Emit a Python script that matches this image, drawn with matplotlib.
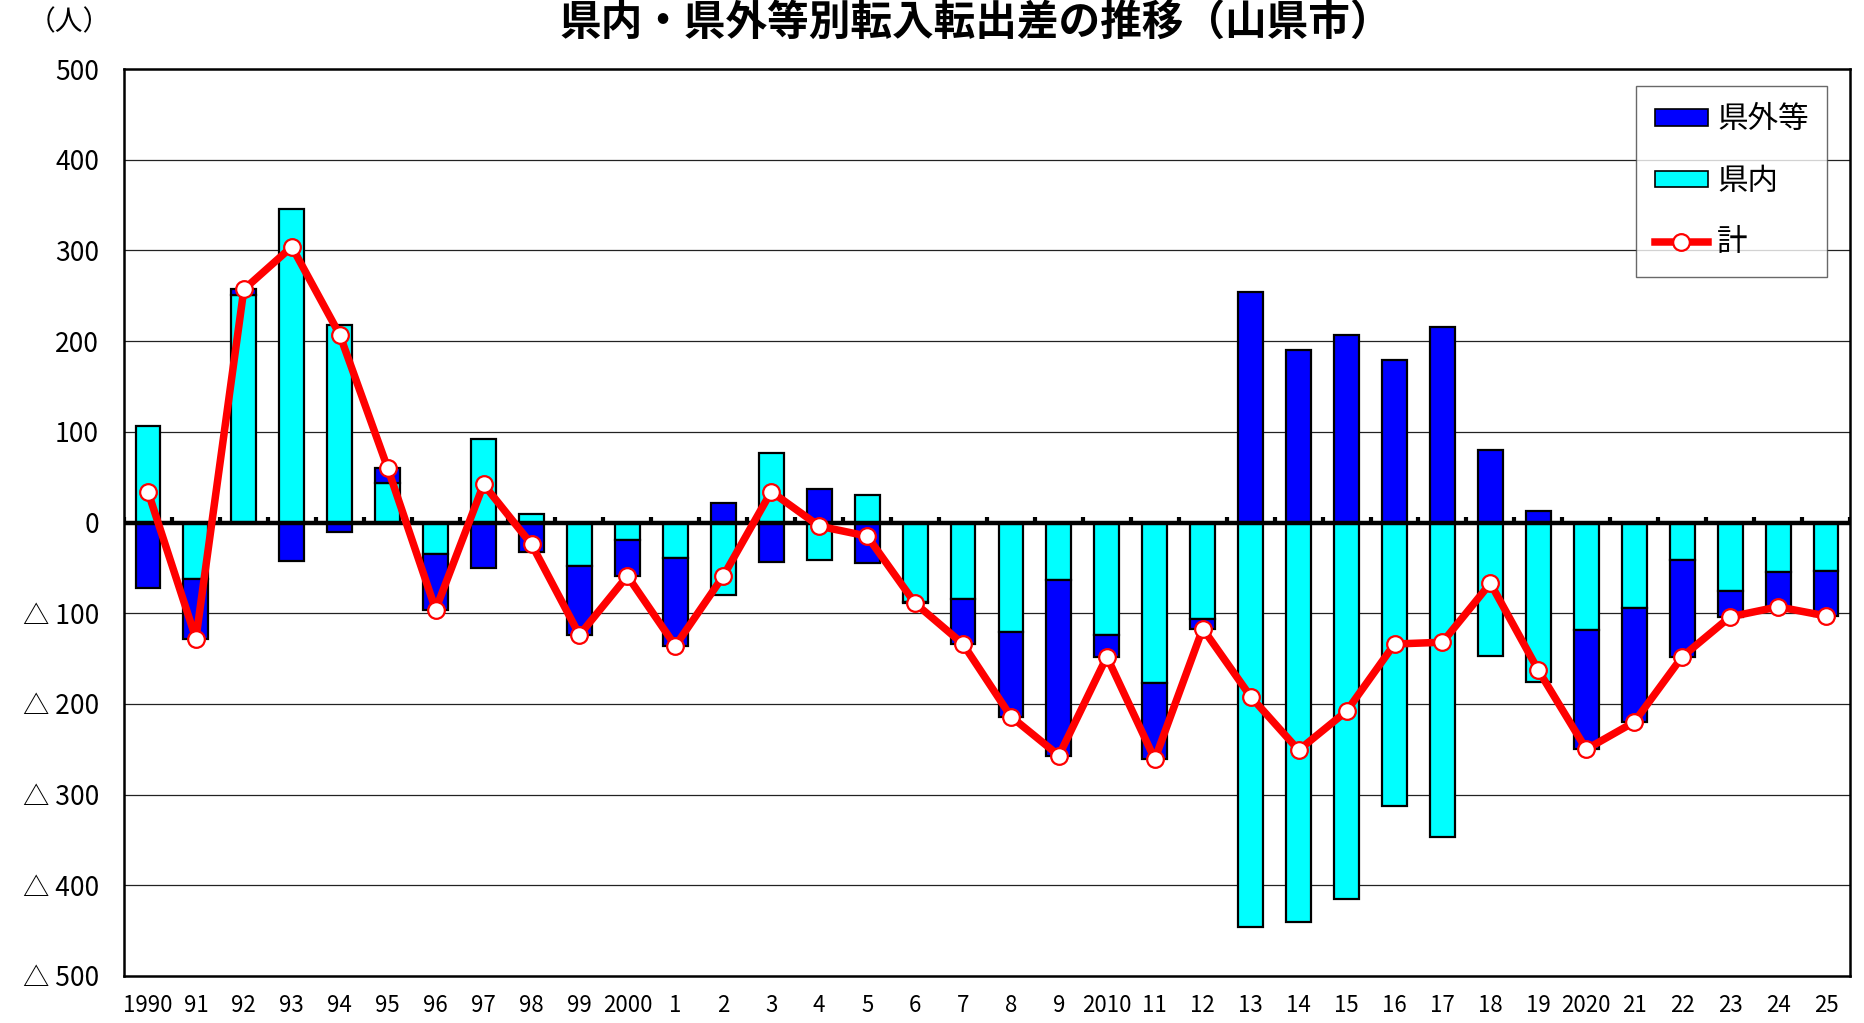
import numpy as np
import matplotlib
matplotlib.use("Agg")
import matplotlib.pyplot as plt
from matplotlib.patches import Patch
from matplotlib.lines import Line2D

plt.rcParams['font.family'] = ['Noto Sans CJK JP', 'DejaVu Sans']

# ---- data ----
year_labels = ["1990", "91", "92", "93", "94", "95", "96", "97", "98", "99",
               "2000", "1", "2", "3", "4", "5", "6", "7", "8", "9",
               "2010", "11", "12", "13", "14", "15", "16", "17", "18", "19",
               "2020", "21", "22", "23", "24", "25"]

kennai = [106, -62, 251, 346, 218, 44, -35, 92, 9, -48,
          -19, -39, -80, 77, -41, 30, -88, -84, -121, -63,
          -124, -177, -106, -446, -441, -415, -313, -347, -147, -176,
          -118, -94, -41, -76, -55, -53]

kengai = [-72, -66, 6, -42, -11, 16, -61, -50, -33, -76,
          -40, -97, 21, -43, 37, -45, -1, -50, -93, -194,
          -24, -84, -11, 254, 190, 207, 179, 215, 80, 13,
          -132, -126, -107, -28, -38, -50]

total = [34, -128, 257, 304, 207, 60, -96, 42, -24, -124,
         -59, -136, -59, 34, -4, -15, -89, -134, -214, -257,
         -148, -261, -117, -192, -251, -208, -134, -132, -67, -163,
         -250, -220, -148, -104, -93, -103]

yticks = [500, 400, 300, 200, 100, 0, -100, -200, -300, -400, -500]
ytick_labels = ["500", "400", "300", "200", "100", "0",
                "△ 100", "△ 200", "△ 300", "△ 400", "△ 500"]

title = "県内・県外等別転入転出差の推移（山県市）"
unit = "（人）"
series_names = ["県外等", "県内", "計"]

# ---- figure ----
W, H = 1865, 1023
fig = plt.figure(figsize=(W / 100, H / 100), dpi=100)
left, right, top, bottom = 124, 1850, 69, 976
ax = fig.add_axes([left / W, 1 - bottom / H, (right - left) / W, (bottom - top) / H])

x = np.arange(len(year_labels))
kn = np.array(kennai)
kg = np.array(kengai)
kg_bottom = np.where(np.sign(kg) == np.sign(kn), kn, 0)

blue = "#0000FF"
cyan = "#00FFFF"
red = "#FF0000"
bw = 0.52

ax.bar(x, kn, width=bw, color=cyan, edgecolor="black", linewidth=1.6, zorder=2)
ax.bar(x, kg, width=bw, bottom=kg_bottom, color=blue, edgecolor="black",
       linewidth=1.6, zorder=2)

# zero axis line with category tick marks
ax.axhline(0, color="black", lw=3.2, zorder=3)
ax.vlines(np.arange(len(year_labels) + 1) - 0.5, 0, 6, colors="black", lw=3, zorder=3)

ax.plot(x, total, color=red, lw=5.4, marker="o", markersize=12,
        markerfacecolor="white", markeredgecolor=red, markeredgewidth=1.6, zorder=4)

ax.set_xlim(-0.5, len(year_labels) - 0.5)
ax.set_ylim(-500, 500)
ax.set_yticks(yticks)
ax.set_yticklabels(ytick_labels, fontsize=19)
ax.set_xticks(x)
ax.set_xticklabels(year_labels, fontsize=16)
ax.tick_params(axis="both", length=0)
ax.tick_params(axis="y", pad=18)
ax.tick_params(axis="x", pad=13)

for v in [400, 300, 200, 100, -100, -200, -300, -400]:
    ax.axhline(v, color="#222222", lw=0.9, zorder=1)

for s in ax.spines.values():
    s.set_linewidth(1.8)
    s.set_color("black")

# legend
handles = [Patch(facecolor=blue, edgecolor="black", linewidth=1.2),
           Patch(facecolor=cyan, edgecolor="black", linewidth=1.2),
           Line2D([0], [0], color=red, lw=5.4, marker="o", markersize=12,
                  markerfacecolor="white", markeredgecolor=red, markeredgewidth=1.6)]
leg = ax.legend(handles, series_names, loc="upper right",
                bbox_to_anchor=(1827 / W, 1 - 86 / H), bbox_transform=fig.transFigure,
                borderaxespad=0, fontsize=22, frameon=True, fancybox=False,
                handlelength=1.75, handleheight=0.45, handletextpad=0.3,
                labelspacing=1.0, borderpad=0.6)
leg.get_frame().set_edgecolor("#444444")
leg.get_frame().set_linewidth(1.0)
leg.set_zorder(6)

fig.text(976 / W, 1 - 24 / H, title, fontsize=30, fontweight="bold",
         ha="center", va="center")
fig.text(69 / W, 1 - 22 / H, unit, fontsize=20, ha="center", va="center")

fig.savefig("out.png", dpi=100)
